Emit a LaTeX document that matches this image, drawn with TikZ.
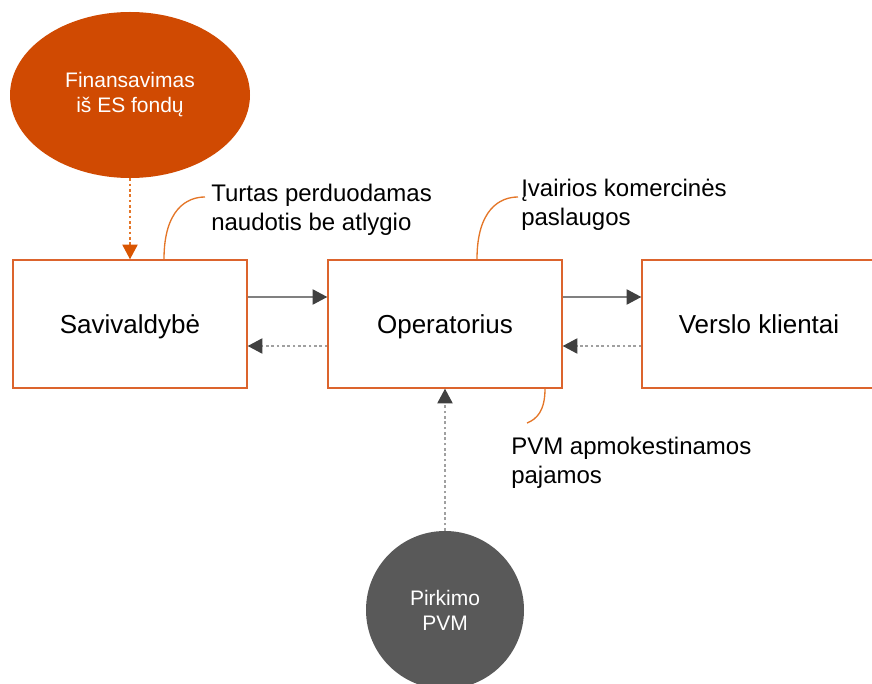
\documentclass[tikz,border=0pt]{standalone}
\usepackage{fontspec}
\setmainfont{Liberation Sans}
\usetikzlibrary{arrows.meta,shapes.geometric}
\definecolor{pwcorange}{RGB}{208,74,2}
\definecolor{boxorange}{RGB}{220,100,45}
\definecolor{lineorange}{RGB}{228,118,40}
\definecolor{darkgrey}{RGB}{89,89,89}
\definecolor{tipgrey}{RGB}{64,64,64}
\definecolor{linegrey}{RGB}{128,128,128}

\begin{document}
\begin{tikzpicture}[x=0.75pt, y=-0.75pt,
    party/.style={draw=boxorange, line width=1.1pt, minimum width=175.5pt, minimum height=96pt, text height=15pt, text depth=0pt, font=\fontsize{19.5}{23}\selectfont},
    flow/.style={draw=linegrey, line width=0.8pt, -{Triangle[length=11pt,width=11.5pt,color=tipgrey]}},
    back/.style={flow, draw=linegrey!75, dash pattern=on 2pt off 2pt},
    note/.style={anchor=north west, inner sep=0pt, align=left, font=\fontsize{18}{21.5}\selectfont},
    hook/.style={draw=lineorange, line width=1pt}]
    \useasboundingbox (0,0) rectangle (872,684);
    \node[ellipse, fill=pwcorange, minimum width=180pt, minimum height=124.5pt, text=white, align=center, font=\fontsize{15.75}{18.75}\selectfont] (fund) at (130,95) {Finansavimas\\iš ES fondų};
    \node[party] (sav) at (130,324) {Savivaldybė};
    \node[party] (op) at (445,324) {Operatorius};
    \node[party] (biz) at (759,324) {Verslo klientai};
    \node[circle, fill=darkgrey, minimum size=118.5pt, text=white, align=center, font=\fontsize{15.75}{18.75}\selectfont] (vat) at (445,610) {Pirkimo\\PVM};
    % srautai tarp saliu
    \draw[draw=lineorange, line width=0.8pt, dash pattern=on 2pt off 2pt, -{Triangle[length=11pt,width=11.5pt,color=pwcorange!80!orange]}] (fund.south) -- (sav.north);
    \draw[flow] ([yshift=20.25pt]sav.east) -- ([yshift=20.25pt]op.west);
    \draw[back] ([yshift=-16.5pt]op.west) -- ([yshift=-16.5pt]sav.east);
    \draw[flow] ([yshift=20.25pt]op.east) -- ([yshift=20.25pt]biz.west);
    \draw[back] ([yshift=-16.5pt]biz.west) -- ([yshift=-16.5pt]op.east);
    \draw[back] (vat.north) -- (op.south);
    % paaiskinimai
    \node[note] (n1) at (211,184) {Turtas perduodamas\\naudotis be atlygio};
    \node[note] (n2) at (521,179) {Įvairios komercinės\\paslaugos};
    \node[note] (n3) at (511,437) {PVM apmokestinamos\\pajamos};
    \coordinate (t1) at (205,197);
    \coordinate (t2) at (518,197);
    \coordinate (t3) at (527,423);
    \draw[hook] ([xshift=25.5pt]sav.north) .. controls +(0,-50) and +(-18,0) .. (t1);
    \draw[hook] ([xshift=24pt]op.north) .. controls +(0,-50) and +(-18,0) .. (t2);
    \draw[hook] ([xshift=75pt]op.south) .. controls +(0,22) and +(10,-4) .. (t3);
\end{tikzpicture}
\end{document}
